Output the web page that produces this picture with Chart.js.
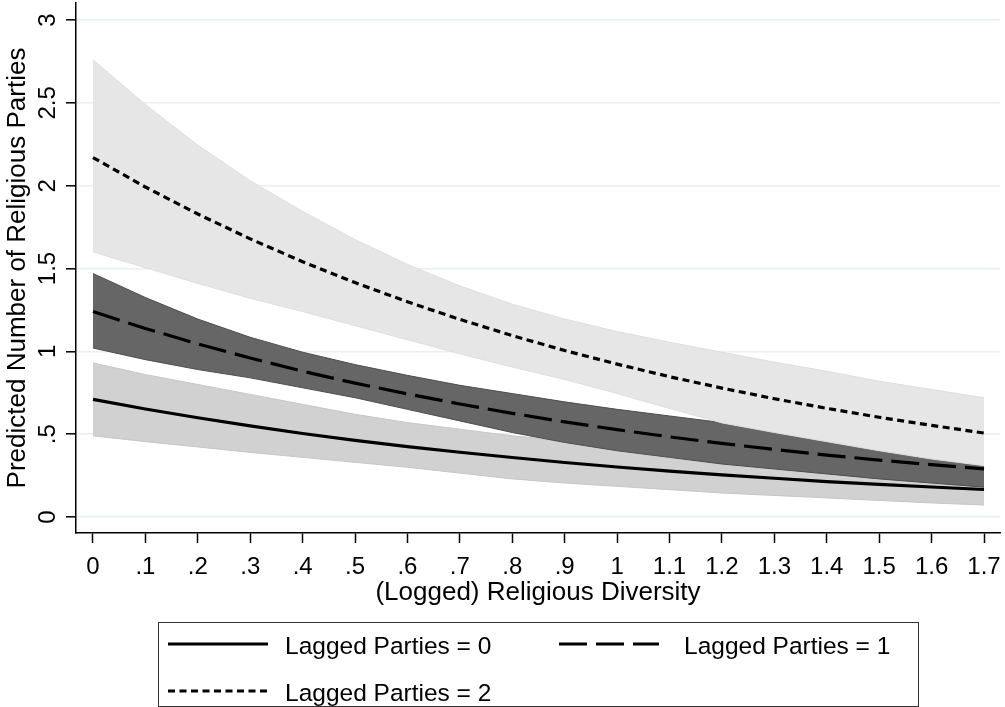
<!DOCTYPE html>
<html><head><meta charset="utf-8">
<style>html,body{margin:0;padding:0;background:#fff;} canvas{display:block;}</style>
<script src="https://cdn.jsdelivr.net/npm/chart.js@4.4.1/dist/chart.umd.min.js"></script>
</head><body>
<canvas id="c" width="1005" height="707"></canvas>
<script>
// ---- data ----
const xValues = [0, 0.1, 0.2, 0.3, 0.4, 0.5, 0.6, 0.7, 0.8, 0.9, 1.0, 1.1, 1.2, 1.3, 1.4, 1.5, 1.6, 1.7];
const line0  = [0.71, 0.652, 0.599, 0.550, 0.504, 0.463, 0.425, 0.391, 0.359, 0.329, 0.302, 0.277, 0.254, 0.234, 0.214, 0.197, 0.181, 0.166];
const upper0 = [0.93, 0.86, 0.80, 0.74, 0.68, 0.62, 0.57, 0.53, 0.49, 0.46, 0.43, 0.40, 0.37, 0.345, 0.32, 0.30, 0.28, 0.26];
const lower0 = [0.49, 0.455, 0.423, 0.39, 0.36, 0.33, 0.30, 0.265, 0.23, 0.205, 0.185, 0.165, 0.145, 0.13, 0.115, 0.10, 0.085, 0.072];
const line1  = [1.24, 1.138, 1.045, 0.960, 0.880, 0.808, 0.743, 0.682, 0.626, 0.574, 0.527, 0.484, 0.444, 0.408, 0.374, 0.343, 0.316, 0.290];
const upper1 = [1.47, 1.325, 1.195, 1.085, 0.995, 0.92, 0.855, 0.795, 0.745, 0.695, 0.65, 0.61, 0.57, 0.53, 0.49, 0.455, 0.42, 0.39];
const lower1 = [1.02, 0.95, 0.89, 0.84, 0.78, 0.72, 0.65, 0.58, 0.51, 0.45, 0.40, 0.36, 0.32, 0.29, 0.26, 0.23, 0.205, 0.18];
const line2  = [2.17, 1.992, 1.829, 1.679, 1.541, 1.415, 1.299, 1.193, 1.095, 1.005, 0.923, 0.847, 0.778, 0.714, 0.656, 0.602, 0.553, 0.507];
const upper2 = [2.76, 2.49, 2.245, 2.03, 1.845, 1.675, 1.525, 1.395, 1.285, 1.195, 1.12, 1.055, 0.995, 0.935, 0.88, 0.82, 0.77, 0.72];
const lower2 = [1.60, 1.505, 1.41, 1.32, 1.24, 1.155, 1.07, 0.985, 0.905, 0.83, 0.745, 0.655, 0.568, 0.51, 0.455, 0.40, 0.35, 0.31];

const xTickValues = [0, 0.1, 0.2, 0.3, 0.4, 0.5, 0.6, 0.7, 0.8, 0.9, 1.0, 1.1, 1.2, 1.3, 1.4, 1.5, 1.6, 1.7];
const xTickLabels = ["0", ".1", ".2", ".3", ".4", ".5", ".6", ".7", ".8", ".9", "1", "1.1", "1.2", "1.3", "1.4", "1.5", "1.6", "1.7"];
const yTickValues = [0, 0.5, 1, 1.5, 2, 2.5, 3];
const yTickLabels = ["0", ".5", "1", "1.5", "2", "2.5", "3"];
const seriesNames = ["Lagged Parties = 0", "Lagged Parties = 1", "Lagged Parties = 2"];
const xTitle = "(Logged) Religious Diversity";
const yTitle = "Predicted Number of Religious Parties";

// ---- styles ----
const FONT = '"Liberation Sans", Arial, Helvetica, sans-serif';
const lineDashes = [[], [28, 9], [7, 4.5]];
const LW = 3.2;

function pts(arr) { return xValues.map((x, i) => ({ x: x, y: arr[i] })); }

const datasets = [
  { label: seriesNames[0], data: pts(line0), borderColor: '#000', borderWidth: LW, borderDash: lineDashes[0], pointRadius: 0, fill: false, order: 1 },
  { label: seriesNames[1], data: pts(line1), borderColor: '#000', borderWidth: LW, borderDash: lineDashes[1], pointRadius: 0, fill: false, order: 1 },
  { label: seriesNames[2], data: pts(line2), borderColor: '#000', borderWidth: LW, borderDash: lineDashes[2], pointRadius: 0, fill: false, order: 1 },
  { label: 'ci0u', data: pts(upper0), borderColor: '#c6c6c6', borderWidth: 1, backgroundColor: '#d1d1d1', fill: '+1', pointRadius: 0, order: 7 },
  { label: 'ci0l', data: pts(lower0), borderColor: '#c6c6c6', borderWidth: 1, fill: false, pointRadius: 0, order: 6.9 },
  { label: 'ci1u', data: pts(upper1), borderColor: '#4e4e4e', borderWidth: 1, backgroundColor: '#666666', fill: '+1', pointRadius: 0, order: 5 },
  { label: 'ci1l', data: pts(lower1), borderColor: '#4e4e4e', borderWidth: 1, fill: false, pointRadius: 0, order: 4.9 },
  { label: 'ci2u', data: pts(upper2), borderColor: '#dedede', borderWidth: 1, backgroundColor: '#e6e6e6', fill: '+1', pointRadius: 0, order: 3 },
  { label: 'ci2l', data: pts(lower2), borderColor: '#dedede', borderWidth: 1, fill: false, pointRadius: 0, order: 2.9 }
];

const textPlugin = {
  id: 'texts',
  afterDraw(chart) {
    const ctx = chart.ctx;
    const xs = chart.scales.x, ys = chart.scales.y, ca = chart.chartArea;
    ctx.save();
    ctx.fillStyle = '#000';
    ctx.textBaseline = 'alphabetic';
    ctx.textAlign = 'center';
    // x tick labels
    ctx.font = '24px ' + FONT;
    xTickValues.forEach((v, i) => ctx.fillText(xTickLabels[i], xs.getPixelForValue(v), 574));
    // y tick labels (rotated)
    yTickValues.forEach((v, i) => {
      ctx.save();
      ctx.translate(55, ys.getPixelForValue(v));
      ctx.rotate(-Math.PI / 2);
      ctx.fillText(yTickLabels[i], 0, 0);
      ctx.restore();
    });
    // titles
    ctx.font = '26px ' + FONT;
    ctx.fillText(xTitle, (ca.left + ca.right) / 2, 600);
    ctx.save();
    ctx.translate(25, (ca.top + ca.bottom) / 2);
    ctx.rotate(-Math.PI / 2);
    ctx.fillText(yTitle, 0, 0);
    ctx.restore();
    // legend
    ctx.strokeStyle = '#333';
    ctx.lineWidth = 1;
    ctx.strokeRect(158.5, 622.5, 760, 84);
    const items = [
      { i: 0, x1: 168, x2: 268, y: 644, tx: 285, ty: 654 },
      { i: 1, x1: 559, x2: 659, y: 644, tx: 684, ty: 654 },
      { i: 2, x1: 168, x2: 268, y: 691, tx: 285, ty: 701 }
    ];
    ctx.font = '24.5px ' + FONT;
    ctx.textAlign = 'left';
    items.forEach(it => {
      const ds = chart.data.datasets[it.i];
      ctx.save();
      ctx.strokeStyle = ds.borderColor;
      ctx.lineWidth = ds.borderWidth;
      ctx.setLineDash(ds.borderDash);
      ctx.beginPath();
      ctx.moveTo(it.x1, it.y);
      ctx.lineTo(it.x2, it.y);
      ctx.stroke();
      ctx.restore();
      ctx.fillText(ds.label, it.tx, it.ty);
    });
    ctx.restore();
  }
};

new Chart(document.getElementById('c'), {
  type: 'line',
  data: { datasets: datasets },
  options: {
    responsive: false,
    animation: false,
    devicePixelRatio: 1,
    events: [],
    layout: { padding: { top: 3, right: 5, left: 0, bottom: 0 } },
    elements: { line: { tension: 0, borderCapStyle: 'butt', borderJoinStyle: 'round' } },
    plugins: { legend: { display: false }, tooltip: { enabled: false } },
    scales: {
      x: {
        type: 'linear', position: 'bottom', min: -0.0324, max: 1.7305,
        afterBuildTicks: s => { s.ticks = xTickValues.map(v => ({ value: v })); },
        afterFit: s => { s.height = 174; },
        ticks: { display: false },
        grid: { drawOnChartArea: false, drawTicks: true, tickLength: 10, tickColor: '#000', tickWidth: 1.5 },
        border: { display: true, color: '#000', width: 1.5 }
      },
      y: {
        type: 'linear', position: 'left', min: -0.0966, max: 3.103,
        afterBuildTicks: s => { s.ticks = yTickValues.map(v => ({ value: v })); },
        afterFit: s => { s.width = 76; },
        ticks: { display: false },
        grid: { color: '#e8f0f1', lineWidth: 1.6, drawTicks: true, tickLength: 10, tickColor: '#000', tickWidth: 1.5 },
        border: { display: true, color: '#000', width: 1.5 }
      }
    }
  },
  plugins: [textPlugin]
});
</script>
</body></html>
